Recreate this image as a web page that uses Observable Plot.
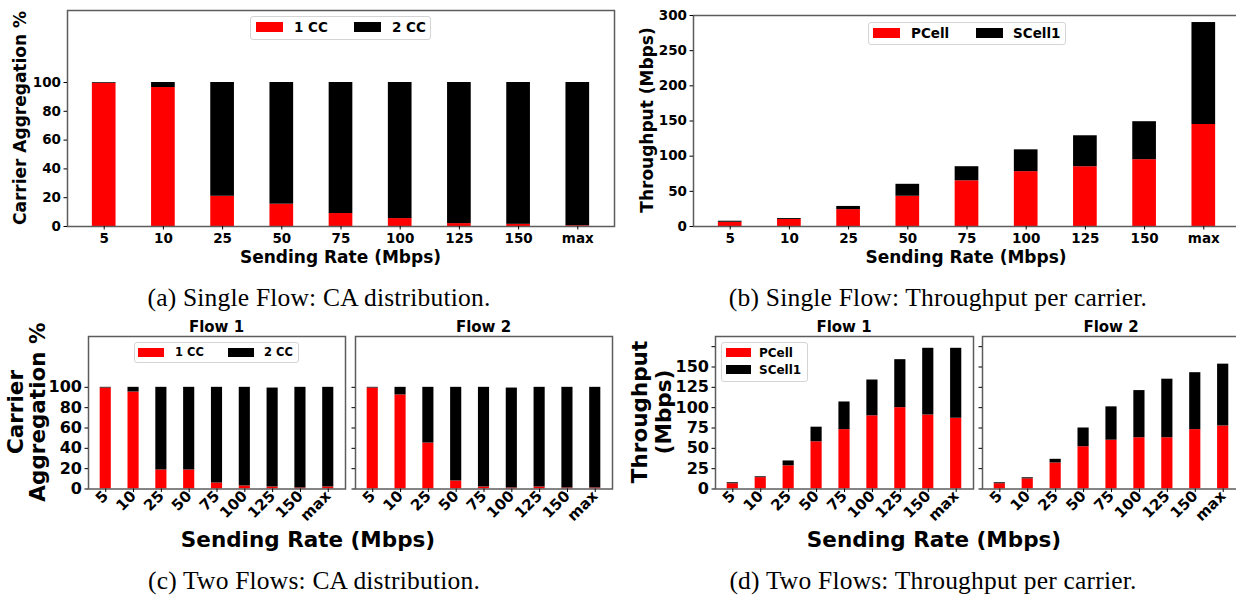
<!DOCTYPE html>
<html><head><meta charset="utf-8">
<script src="https://cdn.jsdelivr.net/npm/d3@7"></script>
<script src="https://cdn.jsdelivr.net/npm/@observablehq/plot@0.6"></script>
<style>
html,body{margin:0;padding:0;background:#fff;}
#fig{position:relative;width:1236px;height:595px;overflow:hidden;background:#fff;}
.t{position:absolute;white-space:pre;color:#000;line-height:1.1;text-align:center;}
.b{font-weight:bold;font-family:"DejaVu Sans";}
.cap{font-family:"Liberation Serif";letter-spacing:0.2px;line-height:1 !important;}
.leg{position:absolute;border:1px solid #d4d4d4;border-radius:3px;background:rgba(255,255,255,0.85);box-sizing:border-box;}
.sw{position:absolute;}
</style></head><body><div id="fig"></div><script>
// ---- data ----
const rates = ["5","10","25","50","75","100","125","150","max"];
const caSeries = ["1 CC","2 CC"];
const tpSeries = ["PCell","SCell1"];
const seriesColors = ["#ff0000","#000000"];

// (a) single flow CA distribution (%)
const caSingle1CC = [99.5, 96.5, 21, 15.5, 9, 5.5, 2, 1.5, 0.5];
const caSingle2CC = [0.5, 3.5, 79, 84.5, 91, 94.5, 98, 98.5, 99.5];
// (b) single flow throughput (Mbps)
const tpSinglePCell = [6, 10, 24, 43, 65, 78, 85, 95, 145];
const tpSingleSCell1 = [1.5, 1.3, 4.5, 17, 20, 31, 44, 54, 145];
// (c) two flows CA distribution (%)
const caFlow1_1CC = [99.3, 95.4, 18.7, 18.7, 5.9, 3, 2, 1, 2];
const caFlow1_2CC = [0.7, 4.6, 81.3, 81.3, 94.1, 97, 97.3, 99, 98];
const caFlow2_1CC = [99.3, 92.5, 45.2, 7.9, 2, 1, 2, 1, 1];
const caFlow2_2CC = [0.7, 7.5, 54.8, 92.1, 98, 98.3, 98, 99, 99];
// (d) two flows throughput (Mbps)
const tpFlow1PCell = [6.5, 14, 28.5, 58, 73, 90, 100, 91, 87];
const tpFlow1SCell1 = [1.2, 1, 6, 18, 34, 44, 59, 82, 86];
const tpFlow2PCell = [6.5, 12.5, 32, 52, 60, 63, 63, 73, 77.5];
const tpFlow2SCell1 = [1.2, 1.3, 4.5, 23, 41, 58, 72, 70, 76];

const caTicks = [0,20,40,60,80,100];
const tpSingleTicks = [0,50,100,150,200,250,300];
const tpTwoTicks = [0,25,50,75,100,125,150,175];

// ---- helpers ----
const fig = document.getElementById("fig");
function toLong(names, arrays){
  const out = [];
  names.forEach((s,j)=> rates.forEach((r,i)=> out.push({rate:r, series:s, value:arrays[j][i]})));
  return out;
}
function panel(o){
  const ML=70, MR=10, MT=10, MB=70;
  const p = Plot.plot({
    width: o.fr-o.fl+ML+MR, height: o.fb-o.ft+MT+MB,
    marginLeft:ML, marginRight:MR, marginTop:MT, marginBottom:MB,
    x:{type:"band", domain:rates, paddingInner:0.6, paddingOuter:0.42, round:false},
    y:{domain:[0,o.ymax]},
    color:{domain:o.series, range:seriesColors},
    style:{background:"transparent", overflow:"visible", fontFamily:"DejaVu Sans", fontWeight:"bold", color:"#000"},
    marks:[
      Plot.barY(o.data,{x:"rate", y:"value", fill:"series"}),
      Plot.frame({stroke:"#5c5c5c", strokeWidth:1.5}),
      Plot.axisY({ticks:o.yticks, tickSize:3.5, tickPadding:3, tickFormat:o.yfmt, label:null, fontSize:o.yFont, fontWeight:"bold"}),
      Plot.axisX({tickSize:3.5, tickPadding:o.rotate?1:3.5, tickRotate:o.rotate?-45:0, label:null, fontSize:o.xFont, fontWeight:"bold"})
    ]
  });
  p.style.position="absolute";
  p.style.left=(o.fl-ML)+"px";
  p.style.top=(o.ft-MT)+"px";
  p.style.maxWidth="none";
  fig.appendChild(p);
}
function label(text, cx, cy, cls, size, rot, lh){
  const d = document.createElement("div");
  d.className = "t " + cls;
  d.textContent = text;
  d.style.left = cx+"px"; d.style.top = cy+"px";
  d.style.fontSize = size+"px";
  if (lh) d.style.lineHeight = lh;
  d.style.transform = "translate(-50%,-50%)" + (rot ? " rotate(-90deg)" : "");
  fig.appendChild(d);
}
function legend(box, items, size){
  const b = document.createElement("div");
  b.className="leg";
  Object.assign(b.style,{left:box[0]+"px", top:box[1]+"px", width:box[2]+"px", height:box[3]+"px"});
  fig.appendChild(b);
  items.forEach(it=>{
    const s = document.createElement("div");
    s.className="sw";
    Object.assign(s.style,{left:it.s[0]+"px", top:it.s[1]+"px", width:it.s[2]+"px", height:it.s[3]+"px", background:it.c});
    fig.appendChild(s);
    const t = document.createElement("div");
    t.className="t b";
    t.textContent = it.t;
    Object.assign(t.style,{left:it.tx+"px", top:it.ty+"px", fontSize:size+"px", transform:"translateY(-50%)", lineHeight:"1"});
    fig.appendChild(t);
  });
}

// ---- (a) ----
panel({data:toLong(caSeries,[caSingle1CC,caSingle2CC]), series:caSeries,
  fl:67, ft:10, fr:614, fb:226, ymax:150, yticks:caTicks, yfmt:d=>d, rotate:false, yFont:13.5, xFont:13.5});
legend([250,16,181,24],[
  {c:seriesColors[0], s:[256,22,27,10], t:caSeries[0], tx:294, ty:27.5},
  {c:seriesColors[1], s:[354,22,27,10], t:caSeries[1], tx:392, ty:27.5}], 13.5);
label("Sending Rate (Mbps)", 340.5, 257, "b", 17);
label("Carrier Aggregation %", 20, 118, "b", 17, true);

// ---- (b) ----
panel({data:toLong(tpSeries,[tpSinglePCell,tpSingleSCell1]), series:tpSeries,
  fl:693, ft:15, fr:1240, fb:226, ymax:300, yticks:tpSingleTicks, yfmt:d=>d, rotate:false, yFont:13.5, xFont:13.5});
legend([868,22,198,23],[
  {c:seriesColors[0], s:[873,28,27,10], t:tpSeries[0], tx:911, ty:33.5},
  {c:seriesColors[1], s:[976,28,27,10], t:tpSeries[1], tx:1013, ty:33.5}], 13.5);
label("Sending Rate (Mbps)", 966, 257, "b", 17);
label("Throughput (Mbps)", 647, 120, "b", 17, true);

// ---- (c) ----
panel({data:toLong(caSeries,[caFlow1_1CC,caFlow1_2CC]), series:caSeries,
  fl:88, ft:335.5, fr:345, fb:488, ymax:150, yticks:caTicks, yfmt:d=>d, rotate:true, yFont:16, xFont:15});
panel({data:toLong(caSeries,[caFlow2_1CC,caFlow2_2CC]), series:caSeries,
  fl:355, ft:335.5, fr:612, fb:488, ymax:150, yticks:caTicks, yfmt:()=>"", rotate:true, yFont:16, xFont:15});
legend([134,342,165,21],[
  {c:seriesColors[0], s:[138,348,26,9], t:caSeries[0], tx:175, ty:353},
  {c:seriesColors[1], s:[228,348,26,9], t:caSeries[1], tx:264, ty:353}], 11.5);
label("Flow 1", 216.5, 327, "b", 15);
label("Flow 2", 483.5, 327, "b", 15);
label("Sending Rate (Mbps)", 308, 540, "b", 21.5);
label("Carrier\nAggregation %", 27, 412, "b", 21.5, true, "1.02");

// ---- (d) ----
panel({data:toLong(tpSeries,[tpFlow1PCell,tpFlow1SCell1]), series:tpSeries,
  fl:715, ft:335.5, fr:973, fb:488, ymax:187.5, yticks:tpTwoTicks, yfmt:d=>d===175?"":d, rotate:true, yFont:16, xFont:15});
panel({data:toLong(tpSeries,[tpFlow2PCell,tpFlow2SCell1]), series:tpSeries,
  fl:982, ft:335.5, fr:1240, fb:488, ymax:187.5, yticks:tpTwoTicks, yfmt:()=>"", rotate:true, yFont:16, xFont:15});
legend([721,342,87,40],[
  {c:seriesColors[0], s:[726,348,25,9], t:tpSeries[0], tx:759, ty:353},
  {c:seriesColors[1], s:[726,365,25,9], t:tpSeries[1], tx:759, ty:370}], 12);
label("Flow 1", 844, 327, "b", 15);
label("Flow 2", 1111, 327, "b", 15);
label("Sending Rate (Mbps)", 934, 540, "b", 21.5);
label("Throughput\n(Mbps)", 652, 412, "b", 21.5, true, "1.12");

// ---- captions ----
label("(a) Single Flow: CA distribution.", 319, 298, "cap", 25.5);
label("(b) Single Flow: Throughput per carrier.", 938, 298, "cap", 25.5);
label("(c) Two Flows: CA distribution.", 314, 580.5, "cap", 25.5);
label("(d) Two Flows: Throughput per carrier.", 933, 580.5, "cap", 25.5);
</script></body></html>
